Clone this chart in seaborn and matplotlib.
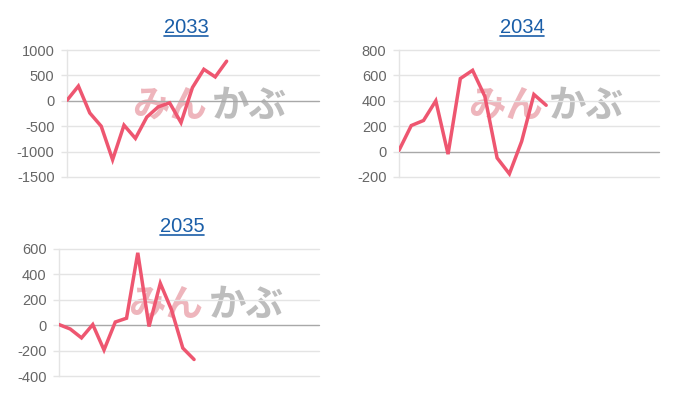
import matplotlib
matplotlib.use("Agg")
import matplotlib.pyplot as plt
from matplotlib.lines import Line2D
import seaborn as sns
import pandas as pd

# chart values
years = ["2033", "2034", "2035"]
values_2033 = [10, 290, -240, -500, -1160, -480, -740, -320, -120, -40, -430, 260, 620, 470, 780]
values_2034 = [10, 205, 245, 400, -20, 575, 640, 435, -50, -175, 80, 450, 365]
values_2035 = [5, -30, -100, 5, -195, 25, 55, 570, -10, 330, 120, -180, -270]
yticks_2033 = [-1500, -1000, -500, 0, 500, 1000]
yticks_2034 = [-200, 0, 200, 400, 600, 800]
yticks_2035 = [-400, -200, 0, 200, 400, 600]

sns.set_theme(style="white")
plt.rcParams["font.family"] = ["Liberation Sans", "DejaVu Sans"]
plt.rcParams["axes.unicode_minus"] = False

LINE = "#ee5670"
GRID = "#e4e4e4"
ZERO = "#a8a8a8"
TEXT = "#666666"
TITLE = "#1a5ea8"

fig = plt.figure(figsize=(7, 4), dpi=100)
fig.patch.set_facecolor("white")

# axes boxes in pixels: left, top, right, bottom
boxes = [(67, 50, 319, 177), (399, 50, 659, 177), (59, 249, 319, 376)]
series = [values_2033, values_2034, values_2035]
ticks = [yticks_2033, yticks_2034, yticks_2035]
xmax = [22.1, 21.2, 23.1]

for year, vals, yt, box, xm in zip(years, series, ticks, boxes, xmax):
    l, t, r, b = box
    ax = fig.add_axes([l / 700, 1 - b / 400, (r - l) / 700, (b - t) / 400])
    ax.set_facecolor("white")

    # watermark logo behind the line
    ax.text(0.555, 0.56, "みん", transform=ax.transAxes, ha="right", va="center",
            fontsize=27, fontweight="bold", color="#eaa3ab", alpha=0.8,
            family=["Noto Sans CJK JP"], zorder=0)
    ax.text(0.575, 0.56, "かぶ", transform=ax.transAxes, ha="left", va="center",
            fontsize=27, fontweight="bold", color="#b2b2b2", alpha=0.85,
            family=["Noto Sans CJK JP"], zorder=0)

    df = pd.DataFrame({"x": range(len(vals)), "y": vals})
    sns.lineplot(data=df, x="x", y="y", ax=ax, color=LINE, linewidth=2.5,
                 solid_joinstyle="miter", zorder=3)

    ax.set_xlim(0, xm)
    ax.set_ylim(yt[0], yt[-1])
    ax.set_yticks(yt)
    ax.set_yticklabels([str(v) for v in yt])
    ax.set_xticks([])
    ax.set_xlabel("")
    ax.set_ylabel("")
    for v in yt:
        ax.axhline(v, color=ZERO if v == 0 else GRID, linewidth=1, zorder=1,
                   clip_on=False)
    for s in ["top", "right", "bottom"]:
        ax.spines[s].set_visible(False)
    ax.spines["left"].set_color(GRID)
    ax.spines["left"].set_linewidth(1)
    ax.tick_params(axis="y", length=4, width=1, color=GRID, labelsize=10.5,
                   labelcolor=TEXT, pad=5, left=True)

    # underlined title
    cx = (l + r) / 2 / 700 - 0.01
    ty = 1 - (t - 17) / 400
    txt = fig.text(cx, ty, year, ha="center", va="baseline", fontsize=14.5, color=TITLE)
    fig.canvas.draw()
    bb = txt.get_window_extent().transformed(fig.transFigure.inverted())
    fig.add_artist(Line2D([bb.x0, bb.x1], [ty - 0.008, ty - 0.008],
                          transform=fig.transFigure, color=TITLE, linewidth=1.2))

fig.savefig("out.png", dpi=100)
